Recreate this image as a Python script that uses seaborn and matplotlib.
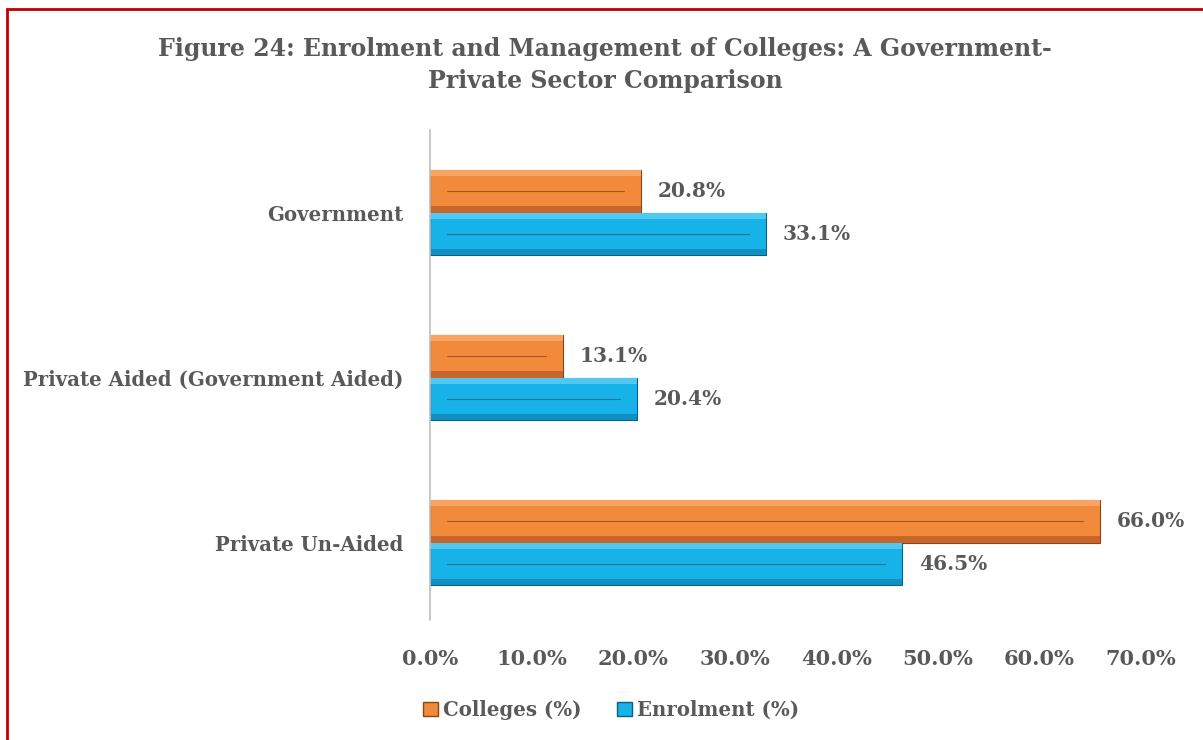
#!/usr/bin/env python
'''
Horizontal grouped bars: share of colleges vs enrolment by management type.
'''

import matplotlib
matplotlib.use('Agg')
import matplotlib.pyplot as plt
from matplotlib.patches import Rectangle
from matplotlib.ticker import FuncFormatter
import pandas as pd
import seaborn as sns

categories = ['Government', 'Private Aided (Government Aided)', 'Private Un-Aided']
series_names = ['Colleges (%)', 'Enrolment (%)']
colleges_pct = [20.8, 13.1, 66.0]
enrolment_pct = [33.1, 20.4, 46.5]
xticks = [0, 10, 20, 30, 40, 50, 60, 70]

title = 'Figure 24: Enrolment and Management of Colleges: A Government-\nPrivate Sector Comparison'

df = pd.DataFrame({
    'category': categories * 2,
    'series': [series_names[0]] * 3 + [series_names[1]] * 3,
    'value': colleges_pct + enrolment_pct,
})

txt_color = '#595959'
palette = {series_names[0]: '#F28A3C', series_names[1]: '#17B2E8'}
edges = {series_names[0]: '#8A4514', series_names[1]: '#0B5F80'}
lights = {series_names[0]: '#F9A463', series_names[1]: '#4FC8F2'}
darks = {series_names[0]: '#C8652A', series_names[1]: '#1090C0'}

sns.set_style('white')
plt.rcParams['font.family'] = ['DejaVu Serif']
plt.rcParams['font.weight'] = 'bold'

fig = plt.figure(figsize=(12.03, 7.40), dpi=100)
ax = fig.add_axes([430 / 1203, 1 - 625 / 740, (1141 - 430) / 1203, 495 / 740])

sns.barplot(data=df, x='value', y='category', hue='series', order=categories,
            hue_order=series_names, palette=palette, orient='h', width=0.52,
            saturation=1, ax=ax, legend=True)

# bevel look: light band on top, dark band at the bottom, thin inner line
for i, cont in enumerate(ax.containers):
    name = series_names[i]
    for bar in cont:
        bar.set_edgecolor(edges[name])
        bar.set_linewidth(0.8)
        x0, y0 = bar.get_x(), bar.get_y()
        w, h = bar.get_width(), bar.get_height()
        # y axis is inverted: y0 is the top edge on screen
        band = h * 0.16
        ax.add_patch(Rectangle((x0, y0), w, band, color=lights[name], lw=0, zorder=2.5))
        ax.add_patch(Rectangle((x0, y0 + h - band), w, band, color=darks[name], lw=0, zorder=2.5))
        ax.plot([x0 + 1.7, x0 + w - 1.7], [y0 + h * 0.5, y0 + h * 0.5],
                color=edges[name], lw=0.8, alpha=0.75, zorder=2.6)
    ax.bar_label(cont, labels=[f'{v:.1f}%' for v in cont.datavalues], padding=12,
                 fontsize=14.5, fontweight='bold', color=txt_color)

ax.set_xlim(0, 70)
ax.set_ylim(2.5, -0.5)
ax.set_xticks(xticks)
ax.xaxis.set_major_formatter(FuncFormatter(lambda v, p: f'{v:.1f}%'))
ax.tick_params(axis='x', labelsize=15, labelcolor=txt_color, length=0, pad=17)
ax.tick_params(axis='y', labelsize=14.2, labelcolor=txt_color, length=0, pad=19)
for lbl in ax.get_xticklabels() + ax.get_yticklabels():
    lbl.set_fontweight('bold')
ax.set_xlabel('')
ax.set_ylabel('')
for s in ['top', 'right', 'bottom']:
    ax.spines[s].set_visible(False)
ax.spines['left'].set_color('#BFBFBF')
ax.spines['left'].set_linewidth(1.2)
ax.spines['left'].set_bounds(2.47, -0.5)

handles, labels = ax.get_legend_handles_labels()
ax.legend_.remove()
for h, name in zip(handles, series_names):
    h.set_edgecolor(edges[name])
fig.legend(handles, labels, loc='center', bbox_to_anchor=(611 / 1203, 1 - 710 / 740),
           ncol=2, frameon=False, handlelength=0.75, handleheight=0.75,
           handletextpad=0.25, columnspacing=1.8,
           prop={'size': 14.2, 'weight': 'bold'}, labelcolor=txt_color)

fig.text(605 / 1203, 1 - 65 / 740, title, ha='center', va='center',
         fontsize=17, fontweight='bold', color=txt_color, linespacing=1.45)

# red frame around the chart area
fig.patches.append(Rectangle((7 / 1203, -0.01), 1.1, 1 - 9 / 740 + 0.01,
                             transform=fig.transFigure, fill=False,
                             edgecolor='#C00000', linewidth=2, clip_on=False))

fig.savefig('out.png', dpi=100)
